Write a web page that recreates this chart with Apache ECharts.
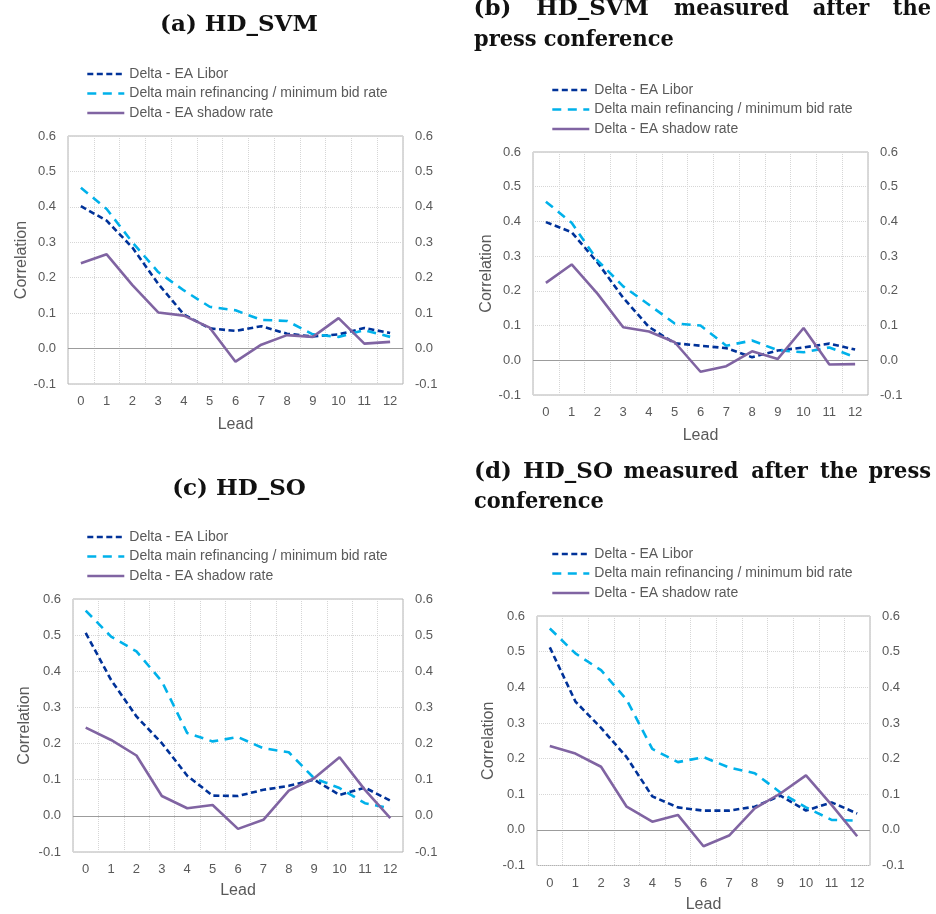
<!DOCTYPE html>
<html>
<head>
<meta charset="utf-8">
<script src="https://cdn.jsdelivr.net/npm/echarts@6/dist/echarts.min.js"></script>
<style>
html,body{margin:0;padding:0;background:#fff;}
#chart{width:936px;height:914px;}
</style>
</head>
<body>
<div id="chart"></div>
<script>
// ---- data ----
const leads = ['0','1','2','3','4','5','6','7','8','9','10','11','12'];
const seriesNames = ['Delta - EA Libor', 'Delta main refinancing / minimum bid rate', 'Delta - EA shadow rate'];
const yTickLabels = ['-0.1','0.0','0.1','0.2','0.3','0.4','0.5','0.6'];

// (a) HD_SVM
const liborA  = [0.402,0.361,0.285,0.183,0.096,0.057,0.050,0.063,0.042,0.034,0.040,0.058,0.044];
const refiA   = [0.454,0.394,0.300,0.216,0.164,0.118,0.108,0.081,0.078,0.040,0.033,0.052,0.033];
const shadowA = [0.241,0.266,0.179,0.102,0.093,0.059,-0.037,0.011,0.038,0.033,0.086,0.014,0.019];
// (b) HD_SVM measured after the press conference
const liborB  = [0.398,0.369,0.282,0.180,0.096,0.049,0.042,0.035,0.009,0.028,0.037,0.048,0.031];
const refiB   = [0.457,0.396,0.288,0.213,0.160,0.106,0.100,0.042,0.057,0.029,0.023,0.037,0.009];
const shadowB = [0.223,0.276,0.192,0.095,0.083,0.052,-0.033,-0.017,0.026,0.004,0.093,-0.012,-0.011];
// (c) HD_SO
const liborC  = [0.506,0.376,0.275,0.201,0.111,0.056,0.055,0.072,0.083,0.100,0.058,0.078,0.042];
const refiC   = [0.568,0.496,0.455,0.372,0.229,0.206,0.218,0.187,0.176,0.104,0.077,0.035,0.021];
const shadowC = [0.244,0.210,0.167,0.055,0.021,0.030,-0.036,-0.011,0.070,0.104,0.162,0.072,-0.006];
// (d) HD_SO measured after the press conference
const liborD  = [0.512,0.360,0.286,0.204,0.094,0.063,0.054,0.054,0.065,0.096,0.054,0.077,0.046];
const refiD   = [0.565,0.495,0.448,0.365,0.227,0.190,0.204,0.175,0.159,0.105,0.063,0.028,0.026];
const shadowD = [0.235,0.214,0.177,0.065,0.023,0.042,-0.046,-0.016,0.060,0.102,0.153,0.070,-0.018];

const panelData = [
  [liborA, refiA, shadowA],
  [liborB, refiB, shadowB],
  [liborC, refiC, shadowC],
  [liborD, refiD, shadowD]
];

// ---- layout / style ----
const grids = [
  {left: 68,  top: 136, width: 335, height: 248},
  {left: 533, top: 152, width: 335, height: 243},
  {left: 73,  top: 599, width: 330, height: 253},
  {left: 537, top: 616, width: 333, height: 251}
];
const yNameGaps = [37.5, 37.5, 40, 40];
const xNameGaps = [32.5, 32.5, 31, 31.5];
const legendPos = [
  {left: 86, top: 67},
  {left: 551, top: 83},
  {left: 86, top: 530},
  {left: 551, top: 547}
];
const lineStyles = [
  {color: '#003299', width: 2.6, type: [6, 3.5]},
  {color: '#00B1EA', width: 2.6, type: [9, 6.5]},
  {color: '#8064A2', width: 2.6, type: 'solid'}
];
const txtColor = '#595959';
const sans = '"Liberation Sans", Arial, sans-serif';
const serifFont = 'bold 23px "DejaVu Serif", serif';

const option = {
  backgroundColor: '#fff',
  animation: false,
  textStyle: {fontFamily: sans},
  grid: grids.map(g => Object.assign({show: true, borderColor: '#b3b3b3', borderWidth: 1, containLabel: false}, g)),
  legend: legendPos.map(p => ({
    left: p.left, top: p.top, orient: 'vertical',
    itemWidth: 37, itemHeight: 14, itemGap: 5.5, padding: 0,
    selectedMode: false,
    data: seriesNames,
    itemStyle: {opacity: 0, borderWidth: 0},
    lineStyle: {width: 2.6},
    textStyle: {color: txtColor, fontSize: 14, fontFamily: sans}
  })),
  xAxis: grids.map((g, i) => ({
    type: 'category', gridIndex: i, data: leads, boundaryGap: true,
    name: 'Lead', nameLocation: 'middle', nameGap: xNameGaps[i],
    nameTextStyle: {color: txtColor, fontSize: 16, fontFamily: sans},
    axisLine: {show: false, onZero: false},
    axisTick: {show: false},
    axisLabel: {color: txtColor, fontSize: 13, margin: 11, interval: 0},
    splitLine: {show: true, interval: 0, lineStyle: {color: '#d6d6d6', type: 'dotted', width: 1}}
  })),
  yAxis: [],
  series: [],
  graphic: []
};

grids.forEach((g, i) => {
  ['left', 'right'].forEach(pos => {
    option.yAxis.push({
      type: 'value', gridIndex: i, position: pos,
      min: -0.1, max: 0.6, interval: 0.1,
      name: pos === 'left' ? 'Correlation' : '',
      nameLocation: 'middle', nameGap: yNameGaps[i],
      nameTextStyle: {color: txtColor, fontSize: 16, fontFamily: sans},
      axisLine: {show: false}, axisTick: {show: false},
      axisLabel: {
        color: txtColor, fontSize: 13, margin: 12,
        formatter: v => yTickLabels[Math.round((v + 0.1) * 10)]
      },
      splitLine: {show: pos === 'left', lineStyle: {color: '#d6d6d6', type: 'dotted', width: 1}}
    });
  });
  panelData[i].forEach((vals, k) => {
    const s = {
      name: seriesNames[k], type: 'line',
      xAxisIndex: i, yAxisIndex: i * 2,
      data: vals, symbol: 'none', showSymbol: false, smooth: false,
      lineStyle: lineStyles[k], itemStyle: {color: lineStyles[k].color},
      z: 3 + k
    };
    if (k === 0) {
      s.markLine = {
        silent: true, symbol: 'none', label: {show: false},
        lineStyle: {color: '#9c9c9c', type: 'solid', width: 1},
        data: [{yAxis: 0}],
        z: 1
      };
    }
    option.series.push(s);
  });
});

// ---- panel titles ----
function word(txt, x, y, align, sx) {
  return {type: 'text', x: x, y: y, scaleX: sx || 1, silent: true,
    style: {text: txt, font: serifFont, fill: '#111', textAlign: align || 'center', align: align || 'center',
            textVerticalAlign: 'bottom', verticalAlign: 'bottom'}};
}
const lc = 0.91;
option.graphic = [
  word('(a) HD_SVM', 239, 37),
  word('(b)', 492.5, 20.5), word('HD_SVM', 592.5, 20.5), word('measured', 731.5, 20.5, 'center', lc), word('after', 841, 20.5, 'center', lc), word('the', 931, 20.5, 'right', lc),
  word('press conference', 474, 52, 'left', lc),
  word('(c) HD_SO', 239, 500.5),
  word('(d)', 474, 483.5, 'left'), word('HD_SO', 568, 483.5), word('measured', 681, 483.5, 'center', lc), word('after', 779.5, 483.5, 'center', lc), word('the', 839, 483.5, 'center', lc), word('press', 931, 483.5, 'right', lc),
  word('conference', 474, 513.5, 'left', lc)
];

const chart = echarts.init(document.getElementById('chart'), null, {renderer: 'canvas'});
chart.setOption(option);
</script>
</body>
</html>
